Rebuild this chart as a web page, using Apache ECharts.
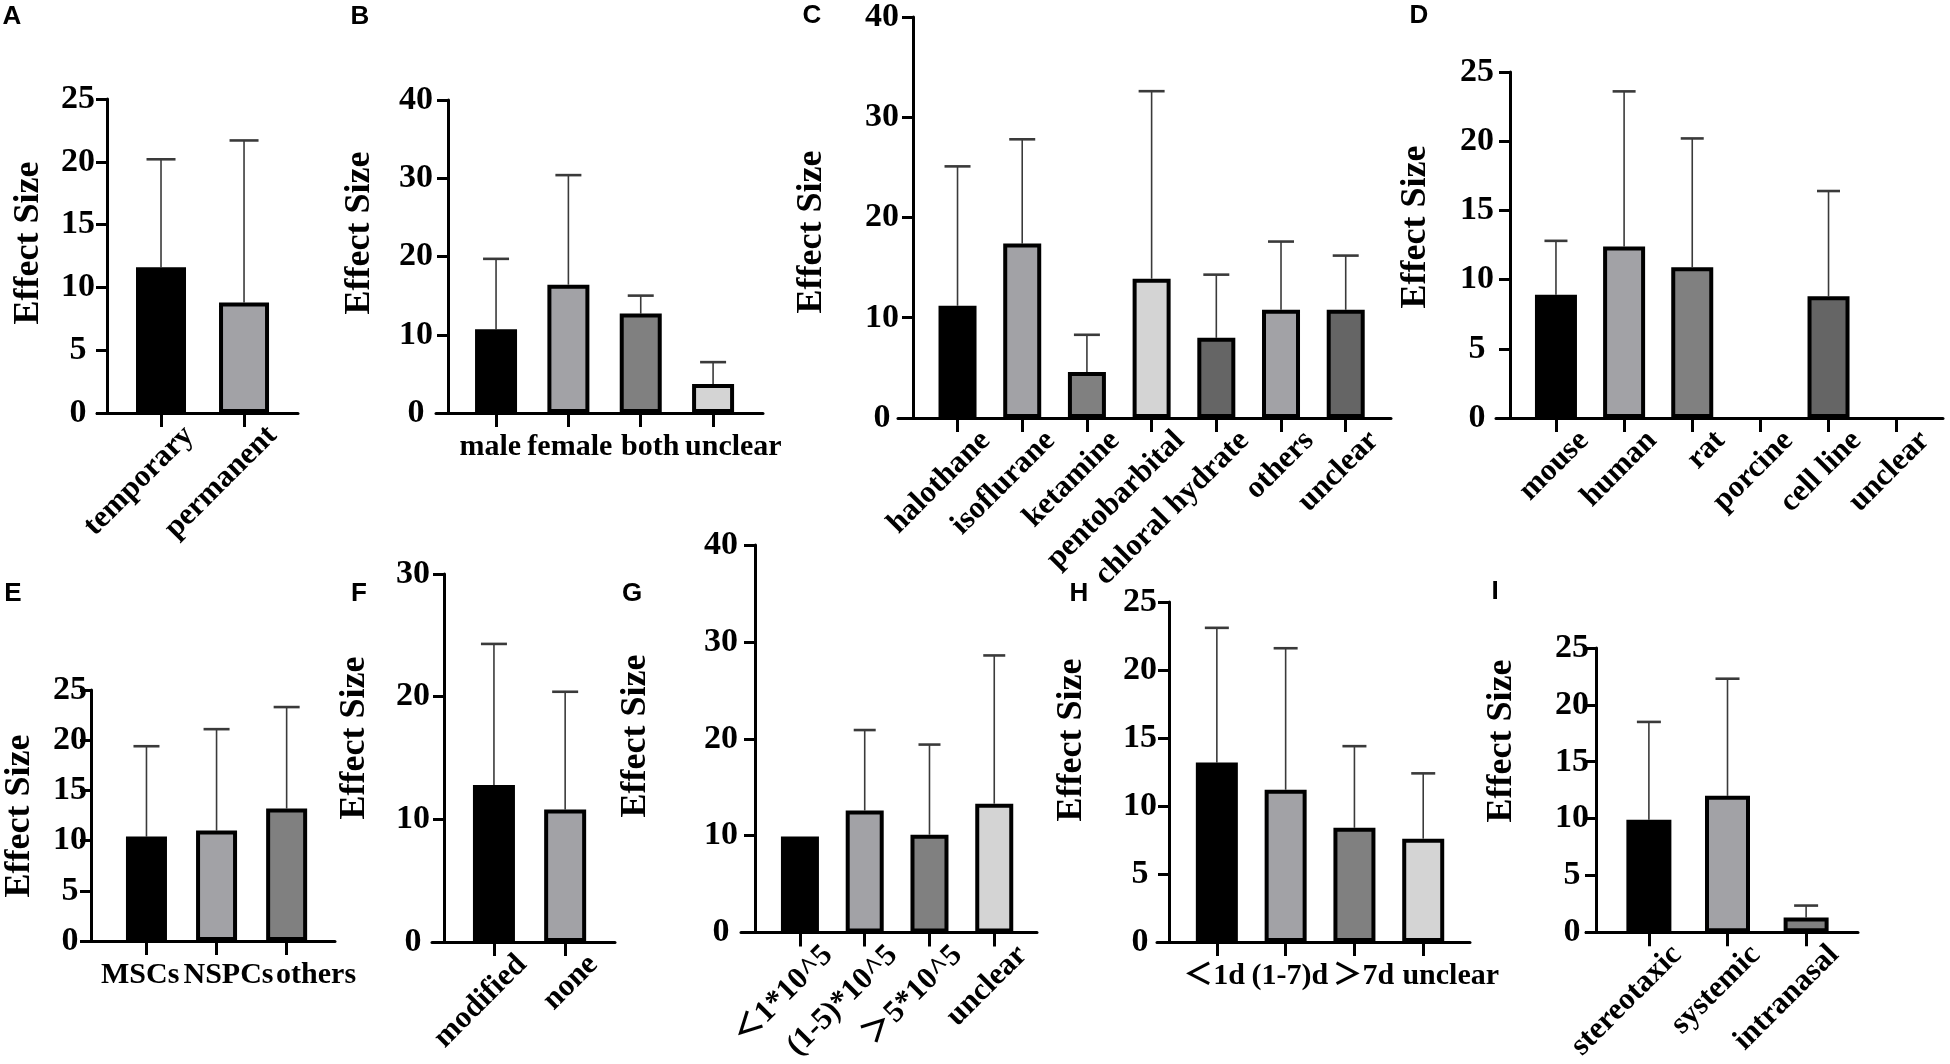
<!DOCTYPE html>
<html><head><meta charset="utf-8">
<script src="https://cdn.jsdelivr.net/npm/echarts@6.0.0/dist/echarts.min.js"></script>
<style>html,body{margin:0;padding:0;background:#fff}#c{width:1950px;height:1064px}</style>
</head><body><div id="c"></div>
<script>
// ---------- DATA ----------
const catsA = ['temporary', 'permanent'];
const meanA = [11.6, 8.8];
const upA   = [20.2, 21.7];

const catsB = ['male', 'female', 'both', 'unclear'];
const meanB = [10.7, 16.4, 12.7, 3.7];
const upB   = [19.7, 30.4, 15.0, 6.5];

const catsC = ['halothane', 'isoflurane', 'ketamine', 'pentobarbital', 'chloral hydrate', 'others', 'unclear'];
const meanC = [11.2, 17.4, 4.6, 13.9, 8.0, 10.8, 10.8];
const upC   = [25.1, 27.8, 8.3, 32.6, 14.3, 17.6, 16.2];

const catsD = ['mouse', 'human', 'rat', 'porcine', 'cell line', 'unclear'];
const meanD = [8.9, 12.4, 10.9, null, 8.8, null];
const upD   = [12.8, 23.6, 20.2, null, 16.4, null];

const catsE = ['MSCs', 'NSPCs', 'others'];
const meanE = [10.4, 11.0, 13.2];
const upE   = [19.4, 21.1, 23.3];

const catsF = ['modified', 'none'];
const meanF = [12.8, 10.8];
const upF   = [24.3, 20.4];

const catsG = ['＜1*10^5', '(1-5)*10^5', '＞5*10^5', 'unclear'];
const meanG = [9.9, 12.6, 10.1, 13.3];
const upG   = [null, 20.9, 19.4, 28.6];

const catsH = ['＜1d', '(1-7)d', '＞7d', 'unclear'];
const meanH = [13.2, 11.2, 8.4, 7.6];
const upH   = [23.1, 21.6, 14.4, 12.4];

const catsI = ['stereotaxic', 'systemic', 'intranasal'];
const meanI = [9.9, 12.0, 1.3];
const upI   = [18.5, 22.3, 2.35];

const yTitle = 'Effect Size';

// ---------- STYLE / LAYOUT ----------
const K = '#000000', L = '#a2a2a6', M = '#808080', P = '#d4d4d4', DK = '#656565';
const SERIF = '"Liberation Serif", "Times New Roman", "Noto Sans CJK SC", serif';
const SANS = '"Liberation Sans", Arial, sans-serif';

// box = [left, top, right, bottom] of the plotting frame in px
const panels = [
  {key:'A', cats:catsA, mean:meanA, up:upA, yMax:25, yInt:5, colors:[K,L],
   box:[97,99,298,413], yAxisX:107, yLabM:29, xr:[-0.771,1.65], barW:50, capW:29, rotate:45,
   letter:[12,17], title:[29,243]},
  {key:'B', cats:catsB, mean:meanB, up:upB, yMax:40, yInt:10, colors:[K,L,M,P],
   box:[436,100,763,413], yAxisX:448, yLabM:32, xr:[-0.83,3.69], barW:42, capW:26, rotate:0,
   labelShift:[-0.08,0.02,0.13,0.28], letter:[360,17], title:[360,233]},
  {key:'C', cats:catsC, mean:meanC, up:upC, yMax:40, yInt:10, colors:[K,L,M,P,DK,L,DK],
   box:[898,14,1391,418], yAxisX:913, yLabM:31, xr:[-0.92,6.70], barW:38, capW:26, rotate:45,
   letter:[812,16], title:[812,232]},
  {key:'D', cats:catsD, mean:meanD, up:upD, yMax:25, yInt:5, colors:[K,L,M,M,DK,M],
   box:[1496,72,1943,418], yAxisX:1510, yLabM:33, xr:[-0.88,5.68], barW:42, capW:23, rotate:45,
   letter:[1419,16], title:[1416,227]},
  {key:'E', cats:catsE, mean:meanE, up:upE, yMax:25, yInt:5, colors:[K,L,M],
   box:[89,690,335,941], yAxisX:91, yLabM:21, xr:[-0.82,2.69], barW:41, capW:26, rotate:0,
   labelShift:[-0.09,0.17,0.42], letter:[13,594], title:[20,816]},
  {key:'F', cats:catsF, mean:meanF, up:upF, yMax:30, yInt:10, colors:[K,L],
   box:[432,574,615,942], yAxisX:444, yLabM:31, xr:[-0.87,1.70], barW:42, capW:26, rotate:45,
   letter:[359,594], title:[355,738]},
  {key:'G', cats:catsG, mean:meanG, up:upG, yMax:40, yInt:10, colors:[K,L,M,P],
   box:[741,545,1037,939], yAxisX:755, yLabM:34, xr:[-0.91,3.66], barW:38, capW:22, rotate:45,
   letter:[632,594], title:[636,736]},
  {key:'H', cats:catsH, mean:meanH, up:upH, yMax:25, yInt:5, colors:[K,L,M,P],
   box:[1157,602,1470,942], yAxisX:1169, yLabM:29, xr:[-0.87,3.68], barW:42, capW:24, rotate:0,
   labelShift:[-0.04,0.06,0.13,0.40], letter:[1079,594], title:[1072,740]},
  {key:'I', cats:catsI, mean:meanI, up:upI, yMax:25, yInt:5, colors:[K,L,M],
   box:[1586,648,1858,943], yAxisX:1596, yLabM:24, xr:[-0.80,2.66], barW:45, capW:24, rotate:45,
   letter:[1495,592], title:[1502,741]}
];

const ROT_SHIFT_PX = 28;   // rotated labels end to the right of their tick
const grid = [], xAxis = [], yAxis = [], series = [], graphic = [];

panels.forEach((p, i) => {
  const [l, t, r, b] = p.box;
  grid.push({left:l, top:t, width:r - l, height:b - t, containLabel:false});
  const idx = p.cats.map((_, j) => j);
  const pxPerUnit = (r - l) / (p.xr[1] - p.xr[0]);
  const labelAt = p.rotate
    ? idx.map(j => j + ROT_SHIFT_PX / pxPerUnit)
    : idx.map(j => j + (p.labelShift ? p.labelShift[j] : 0));
  xAxis.push({
    gridIndex:i, type:'value', min:p.xr[0], max:p.xr[1],
    axisLine:{show:true, onZero:false, lineStyle:{color:'#000', width:3}},
    axisTick:{show:true, customValues:idx, length:14, lineStyle:{color:'#000', width:3}},
    axisLabel:{
      show:true, customValues:labelAt, showMinLabel:true, showMaxLabel:true, hideOverlap:false,
      formatter:(v) => p.cats[Math.max(0, Math.min(p.cats.length - 1, Math.round(v)))],
      rotate:p.rotate, margin:p.rotate ? 18 : 19,
      fontFamily:SERIF, fontWeight:'bold', fontSize:p.rotate ? 31 : 30, color:'#000'
    },
    splitLine:{show:false}
  });
  yAxis.push({
    gridIndex:i, type:'value', min:0, max:p.yMax, interval:p.yInt,
    offset:-(p.yAxisX - l),
    axisLine:{show:true, onZero:false, lineStyle:{color:'#000', width:3}},
    axisTick:{show:true, length:11, lineStyle:{color:'#000', width:3}},
    axisLabel:{fontFamily:SERIF, fontWeight:'bold', fontSize:34, color:'#000',
      margin:p.yLabM, align:'center', showMinLabel:true, showMaxLabel:true},
    splitLine:{show:false}
  });
  const barData = [];
  const errData = [];
  p.mean.forEach((v, j) => {
    if (v == null) return;
    barData.push({value:[j, v], itemStyle:{color:p.colors[j]}});
    if (p.up[j] != null) errData.push([j, v, p.up[j]]);
  });
  const capW = p.capW;
  series.push({
    type:'custom', xAxisIndex:i, yAxisIndex:i, z:1, silent:true,
    data:errData, encode:{x:0, y:1},
    renderItem:(params, api) => {
      const x = api.value(0), m = api.value(1), u = api.value(2);
      const p0 = api.coord([x, m]), p1 = api.coord([x, u]);
      return {type:'group', children:[
        {type:'line', shape:{x1:p0[0], y1:p0[1], x2:p1[0], y2:p1[1]}, style:{stroke:'#3a3a3a', lineWidth:1.6}},
        {type:'line', shape:{x1:p1[0] - capW / 2, y1:p1[1], x2:p1[0] + capW / 2, y2:p1[1]}, style:{stroke:'#3a3a3a', lineWidth:2.6}}
      ]};
    }
  });
  series.push({
    type:'bar', xAxisIndex:i, yAxisIndex:i, z:3, silent:true,
    barWidth:p.barW, data:barData,
    itemStyle:{borderColor:'#000', borderWidth:4}
  });
  graphic.push({type:'text', x:p.letter[0], y:p.letter[1], silent:true,
    style:{text:p.key, font:'bold 26px ' + SANS, fill:'#000',
      textAlign:'center', textVerticalAlign:'middle', align:'center', verticalAlign:'middle'}});
  graphic.push({type:'text', x:p.title[0], y:p.title[1], rotation:Math.PI / 2, silent:true,
    style:{text:yTitle, font:'bold 36px ' + SERIF, fill:'#000',
      textAlign:'center', textVerticalAlign:'middle', align:'center', verticalAlign:'middle'}});
});

const chart = echarts.init(document.getElementById('c'), null, {renderer:'canvas', width:1950, height:1064});
chart.setOption({animation:false, backgroundColor:'#fff', grid, xAxis, yAxis, series, graphic});
</script>
</body></html>
